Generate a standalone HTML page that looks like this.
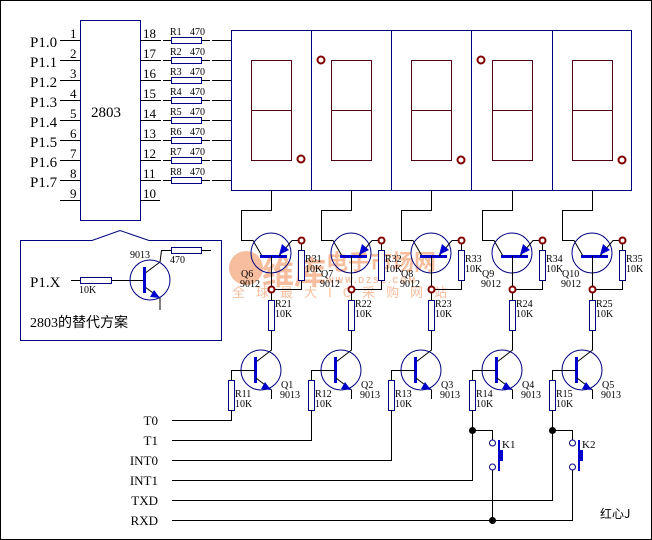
<!DOCTYPE html>
<html><head><meta charset="utf-8"><style>
html,body{margin:0;padding:0;background:#fff;}
svg{display:block;}
text{font-family:"Liberation Serif","Noto Serif CJK SC",serif;fill:#000;}
.s{font-size:10px;}
.m{font-size:13px;}
.l{font-size:15px;}
</style></head><body>
<svg width="652" height="540" viewBox="0 0 652 540" xmlns="http://www.w3.org/2000/svg">
<rect x="0.5" y="0.5" width="651" height="539" fill="#fff" stroke="#000"/>

<!-- watermark -->
<g opacity="0.55">
<circle cx="246" cy="268" r="17" fill="#f08a50"/>
<text x="262" y="284" style="font-family:'Noto Sans CJK SC',sans-serif;font-size:32px;font-weight:bold;fill:#f08a50">维库</text>
<text x="326" y="270" style="font-family:'Noto Sans CJK SC',sans-serif;font-size:22px;font-weight:bold;fill:#f08a50">电子市场网</text>
<text x="326" y="283" style="font-family:'Liberation Sans',sans-serif;font-size:8px;font-weight:bold;fill:#f08a50;letter-spacing:2px">WWW.DZSC.COM</text>
<text x="232" y="297" style="font-family:'Noto Sans CJK SC',sans-serif;font-size:13px;fill:#f08a50;letter-spacing:11px">全球最大IC采购网站</text>
</g>

<!-- 2803 chip -->
<g stroke="#000" stroke-width="1" fill="none">
<rect x="80.5" y="20.5" width="60" height="200" stroke="#000080"/>
<path d="M60 40.5H80M60 60.5H80M60 80.5H80M60 100.5H80M60 120.5H80M60 140.5H80M60 160.5H80M60 180.5H80M60 200.5H80"/>
<path d="M140 40.5H161M140 60.5H161M140 80.5H161M140 100.5H161M140 120.5H161M140 140.5H161M140 160.5H161M140 180.5H161M140 200.5H160"/>
<path d="M212 40.5H231M212 60.5H231M212 80.5H231M212 100.5H231M212 120.5H231M212 140.5H231M212 160.5H231M212 180.5H231"/>
<path d="M163 40.5H171M201 40.5H210M163 60.5H171M201 60.5H210M163 80.5H171M201 80.5H210M163 100.5H171M201 100.5H210M163 120.5H171M201 120.5H210M163 140.5H171M201 140.5H210M163 160.5H171M201 160.5H210M163 180.5H171M201 180.5H210"/>
</g>
<g fill="#fff" stroke="#000080">
<rect x="171.5" y="37.5" width="30" height="6"/><rect x="171.5" y="57.5" width="30" height="6"/>
<rect x="171.5" y="77.5" width="30" height="6"/><rect x="171.5" y="97.5" width="30" height="6"/>
<rect x="171.5" y="117.5" width="30" height="6"/><rect x="171.5" y="137.5" width="30" height="6"/>
<rect x="171.5" y="157.5" width="30" height="6"/><rect x="171.5" y="177.5" width="30" height="6"/>
</g>
<text x="91" y="117" class="l">2803</text>
<g class="l">
<text x="30" y="47">P1.0</text><text x="30" y="67">P1.1</text><text x="30" y="87">P1.2</text><text x="30" y="107">P1.3</text>
<text x="30" y="127">P1.4</text><text x="30" y="147">P1.5</text><text x="30" y="167">P1.6</text><text x="30" y="187">P1.7</text>
</g>
<g class="m">
<text x="70" y="38">1</text><text x="70" y="58">2</text><text x="70" y="78">3</text><text x="70" y="98">4</text><text x="70" y="118">5</text>
<text x="70" y="138">6</text><text x="70" y="158">7</text><text x="70" y="178">8</text><text x="70" y="198">9</text>
<text x="143" y="38">18</text><text x="143" y="58">17</text><text x="143" y="78">16</text><text x="143" y="98">15</text><text x="143" y="118">14</text>
<text x="143" y="138">13</text><text x="143" y="158">12</text><text x="143" y="178">11</text><text x="143" y="198">10</text>
</g>
<g class="s">
<text x="170" y="35">R1</text><text x="190" y="35">470</text>
<text x="170" y="55">R2</text><text x="190" y="55">470</text>
<text x="170" y="75">R3</text><text x="190" y="75">470</text>
<text x="170" y="95">R4</text><text x="190" y="95">470</text>
<text x="170" y="115">R5</text><text x="190" y="115">470</text>
<text x="170" y="135">R6</text><text x="190" y="135">470</text>
<text x="170" y="155">R7</text><text x="190" y="155">470</text>
<text x="170" y="175">R8</text><text x="190" y="175">470</text>
</g>

<!-- displays -->
<g fill="none" stroke="#000080">
<rect x="231.5" y="30.5" width="400" height="160"/>
<path d="M311.5 30V190M391.5 30V190M471.5 30V190M552.5 30V190"/>
</g>
<g fill="none" stroke="#500010">
<rect x="251.5" y="60.5" width="40" height="100"/><path d="M251 110.5H291"/>
<rect x="331.5" y="60.5" width="40" height="100"/><path d="M331 110.5H371"/>
<rect x="411.5" y="60.5" width="40" height="100"/><path d="M411 110.5H451"/>
<rect x="492.5" y="60.5" width="40" height="100"/><path d="M492 110.5H532"/>
<rect x="572.5" y="60.5" width="40" height="100"/><path d="M572 110.5H612"/>
</g>
<g fill="none" stroke="#800000" stroke-width="2">
<circle cx="301" cy="159" r="3.5"/><circle cx="321" cy="60" r="3.5"/><circle cx="461" cy="160" r="3.5"/>
<circle cx="481" cy="60" r="3.5"/><circle cx="622" cy="160" r="3.5"/>
</g>

<!-- transistor columns -->
<g id="col">
<path d="M271.5 190V210.5H241.5V240.5H253L262 256" fill="none" stroke="#000"/>
<circle cx="271" cy="253" r="20" fill="none" stroke="#000080"/>
<path d="M260 256.5H287" stroke="#0000cc" stroke-width="3"/>
<path d="M279 256L292 240.5H301.5V250M301.5 280V289.5H271.5V256M271.5 289V300M271.5 330V340.5V350L256 362" fill="none" stroke="#000"/>
<path d="M279 255L282 244L289 250Z" fill="#0000cc"/>
<rect x="298.5" y="250.5" width="6" height="30" fill="#fff" stroke="#000080"/>
<rect x="268.5" y="300.5" width="6" height="30" fill="#fff" stroke="#000080"/>
<circle cx="301.5" cy="240.5" r="3" fill="#fff" stroke="#800000" stroke-width="2"/>
<circle cx="271.5" cy="289.5" r="3" fill="#fff" stroke="#800000" stroke-width="2"/>
<circle cx="261" cy="370" r="20" fill="none" stroke="#000080"/>
<path d="M255.5 357V383" stroke="#0000cc" stroke-width="3"/>
<path d="M256 378L271.5 390V399M255 370.5H231.5V380" fill="none" stroke="#000"/>
<path d="M271 390L261 389L265 382Z" fill="#0000cc"/>
<rect x="228.5" y="380.5" width="6" height="30" fill="#fff" stroke="#000080"/>
</g>
<use href="#col" x="80"/><use href="#col" x="160"/><use href="#col" x="241"/><use href="#col" x="321"/>

<g class="s">
<text x="305" y="262">R31</text><text x="305" y="272">10K</text>
<text x="385" y="262">R32</text><text x="385" y="272">10K</text>
<text x="465" y="262">R33</text><text x="465" y="272">10K</text>
<text x="546" y="262">R34</text><text x="546" y="272">10K</text>
<text x="626" y="262">R35</text><text x="626" y="272">10K</text>
<text x="241" y="277">Q6</text><text x="240" y="287">9012</text>
<text x="321" y="277">Q7</text><text x="320" y="287">9012</text>
<text x="401" y="277">Q8</text><text x="400" y="287">9012</text>
<text x="482" y="277">Q9</text><text x="481" y="287">9012</text>
<text x="562" y="277">Q10</text><text x="561" y="287">9012</text>
<text x="275" y="307">R21</text><text x="275" y="317">10K</text>
<text x="355" y="307">R22</text><text x="355" y="317">10K</text>
<text x="435" y="307">R23</text><text x="435" y="317">10K</text>
<text x="516" y="307">R24</text><text x="516" y="317">10K</text>
<text x="596" y="307">R25</text><text x="596" y="317">10K</text>
<text x="281" y="388">Q1</text><text x="280" y="398">9013</text>
<text x="361" y="388">Q2</text><text x="360" y="398">9013</text>
<text x="441" y="388">Q3</text><text x="440" y="398">9013</text>
<text x="522" y="388">Q4</text><text x="521" y="398">9013</text>
<text x="602" y="388">Q5</text><text x="601" y="398">9013</text>
<text x="235" y="397">R11</text><text x="235" y="407">10K</text>
<text x="315" y="397">R12</text><text x="315" y="407">10K</text>
<text x="395" y="397">R13</text><text x="395" y="407">10K</text>
<text x="476" y="397">R14</text><text x="476" y="407">10K</text>
<text x="556" y="397">R15</text><text x="556" y="407">10K</text>
</g>

<!-- signal lines -->
<g fill="none" stroke="#000">
<path d="M231.5 410V420.5H172"/>
<path d="M311.5 410V440.5H172"/>
<path d="M391.5 410V460.5H172"/>
<path d="M472.5 410V480.5H172M472.5 430.5H492.5V440M492.5 470V520"/>
<path d="M552.5 410V500.5H172M552.5 430.5H572.5V440M572.5 470V520.5H172"/>
</g>
<g fill="#000"><circle cx="472.5" cy="430.5" r="3.5"/><circle cx="552.5" cy="430.5" r="3.5"/><circle cx="492.5" cy="520.5" r="3.5"/></g>
<g fill="#fff" stroke="#000080">
<circle cx="492.5" cy="443" r="3"/><circle cx="492.5" cy="467" r="3"/>
<circle cx="572.5" cy="443" r="3"/><circle cx="572.5" cy="467" r="3"/>
</g>
<g stroke="#0000cc" stroke-width="2" fill="#0000cc">
<path d="M499 440V471M579 440V471"/><rect x="500" y="451" width="2" height="9"/><rect x="580" y="451" width="2" height="9"/>
</g>
<text x="502" y="448" class="s" style="font-size:11px">K1</text>
<text x="582" y="448" class="s" style="font-size:11px">K2</text>
<g class="m" text-anchor="end">
<text x="158" y="425">T0</text><text x="158" y="445">T1</text><text x="158" y="465">INT0</text>
<text x="158" y="485">INT1</text><text x="158" y="505">TXD</text><text x="158" y="525">RXD</text>
</g>
<text x="600" y="518" style="font-family:'Noto Sans CJK SC',sans-serif;font-size:12px">红心J</text>

<!-- substitute box -->
<path d="M20.5 240.5H92L120 230.5L149 240.5H221.5V340.5H20.5Z" fill="none" stroke="#000080"/>
<text x="30" y="287" class="l">P1.X</text>
<path d="M71 280.5H80M111 280.5H144M160 262L161.5 250.5H171M201 250.5H211M145 287L160 298V310" fill="none" stroke="#000"/>
<path d="M144 274L160 262" stroke="#000"/>
<rect x="80.5" y="277.5" width="31" height="6" fill="#fff" stroke="#000080"/>
<rect x="171.5" y="247.5" width="30" height="6" fill="#fff" stroke="#000080"/>
<circle cx="150" cy="280" r="20" fill="none" stroke="#000080"/>
<path d="M144.5 267V293" stroke="#0000cc" stroke-width="3"/>
<path d="M160 298L150 297L154 290Z" fill="#0000cc"/>
<text x="130" y="258" class="s">9013</text>
<text x="170" y="263" class="s">470</text>
<text x="79" y="293" class="s">10K</text>
<text x="30" y="327" style="font-family:'Liberation Serif','Noto Sans CJK SC',serif;font-size:14px">2803的替代方案</text>
</svg>
</body></html>
